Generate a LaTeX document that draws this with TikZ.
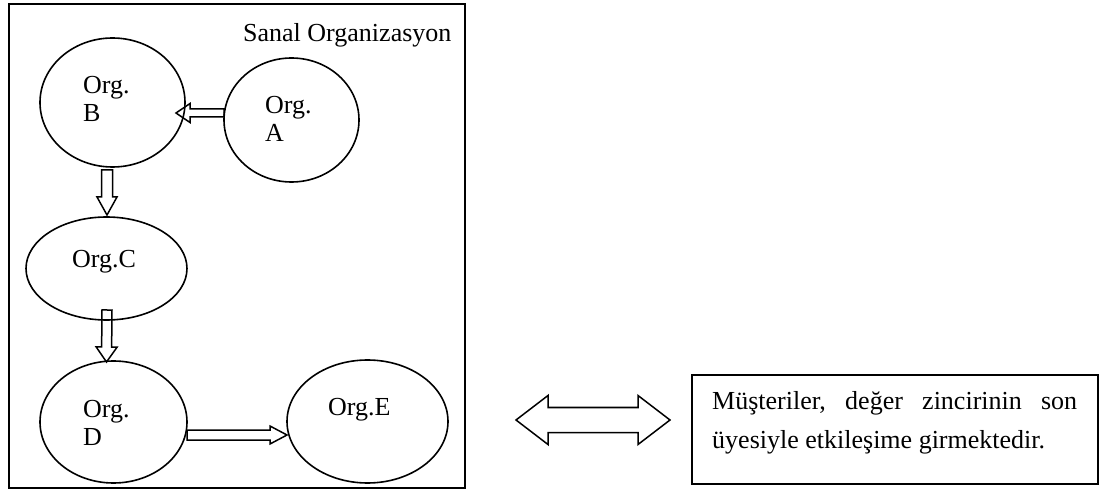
\documentclass[tikz,border=0pt]{standalone}
\usepackage{fontspec}
\setmainfont{Liberation Serif}
\usetikzlibrary{shapes.geometric,calc}

% hollow block arrow from #1 (tail) to #2 (tip):
% #3 half shaft width, #4 half head width, #5 head length
\newcommand\blockarrow[5]{%
  \coordinate (ba-base) at ($(#2)!#5!(#1)$);
  \draw[blockline]
    ($(#1)!#3!90:(#2)$) -- ($(ba-base)!#3!-90:(#1)$) -- ($(ba-base)!#4!-90:(#1)$)
    -- (#2)
    -- ($(ba-base)!#4!90:(#1)$) -- ($(ba-base)!#3!90:(#1)$) -- ($(#1)!#3!-90:(#2)$)
    -- cycle;}

\begin{document}
\begin{tikzpicture}[x=1pt,y=-1pt,
  every node/.style={font=\fontsize{26}{28}\selectfont, inner sep=0pt},
  org/.style={draw, ellipse, line width=1.6pt, inner sep=0pt},
  lbl/.style={anchor=base west, align=left},
  blockline/.style={line width=1.5pt, line join=miter},
  frameline/.style={line width=1.8pt},
]
\useasboundingbox[fill=white] (0,0) rectangle (1101,494);

% virtual organisation frame
\draw[frameline] (9,4) rectangle (465,488);
\node[anchor=base west] (title) at (243,42) {Sanal Organizasyon};

% member organisations
\node[org, minimum width=145pt, minimum height=129pt] (B) at (112.5,102.5) {};
\node[org, minimum width=135pt, minimum height=124pt] (A) at (291.5,120) {};
\node[org, minimum width=161pt, minimum height=103pt] (C) at (106.5,268.5) {};
\node[org, minimum width=147pt, minimum height=122pt] (D) at (113.5,422) {};
\node[org, minimum width=161pt, minimum height=123pt] (E) at (367.5,421.5) {};

% labels (a multi-line node sits on its last baseline)
\node[lbl] (Bl) at (83,122) {Org.\\B};
\node[lbl] (Al) at (265,142) {Org.\\A};
\node[lbl] (Cl) at (72,268) {Org.C};
\node[lbl] (Dl) at (83,445) {Org.\\D};
\node[lbl] (El) at (328,415) {Org.E};

% value chain arrows
\coordinate (ab-t) at ($(A)+(-67.5,-7)$);
\coordinate (ab-h) at ($(B)+(63.5,10.5)$);
\blockarrow{ab-t}{ab-h}{4pt}{9.5pt}{14pt}

\coordinate (bc-t) at ($(B)+(-5.5,67.5)$);
\coordinate (bc-h) at ($(C)+(0.5,-53.5)$);
\blockarrow{bc-t}{bc-h}{5.5pt}{10pt}{18pt}

\coordinate (cd-t) at ($(C)+(0.5,41.5)$);
\coordinate (cd-h) at ($(D)+(-7,-60)$);
\blockarrow{cd-t}{cd-h}{5pt}{10.5pt}{15pt}

\coordinate (de-t) at ($(D)+(73.5,13)$);
\coordinate (de-h) at ($(E)+(-80.5,13.5)$);
\blockarrow{de-t}{de-h}{5pt}{9pt}{17pt}

% customers box
\node[draw, frameline, minimum width=406pt, minimum height=109pt, anchor=north west] (cust) at (691,374) {};
\node[anchor=base west, align=left, font=\fontsize{26}{39}\selectfont] (custtext) at (712,448)
  {\hbox to 365pt{Müşteriler,\hfill değer\hfill zincirinin\hfill son}\\üyesiyle etkileşime girmektedir.};

% two-way interaction arrow
\coordinate (dl) at (516,420);
\coordinate (dr) at (670,420);
\draw[blockline] (dl) -- ++(32,-24.5) -- ++(0,12) -- ++(90,0) -- ++(0,-12) -- (dr)
  -- ++(-32,24.5) -- ++(0,-12) -- ++(-90,0) -- ++(0,12) -- cycle;
\end{tikzpicture}
\end{document}
